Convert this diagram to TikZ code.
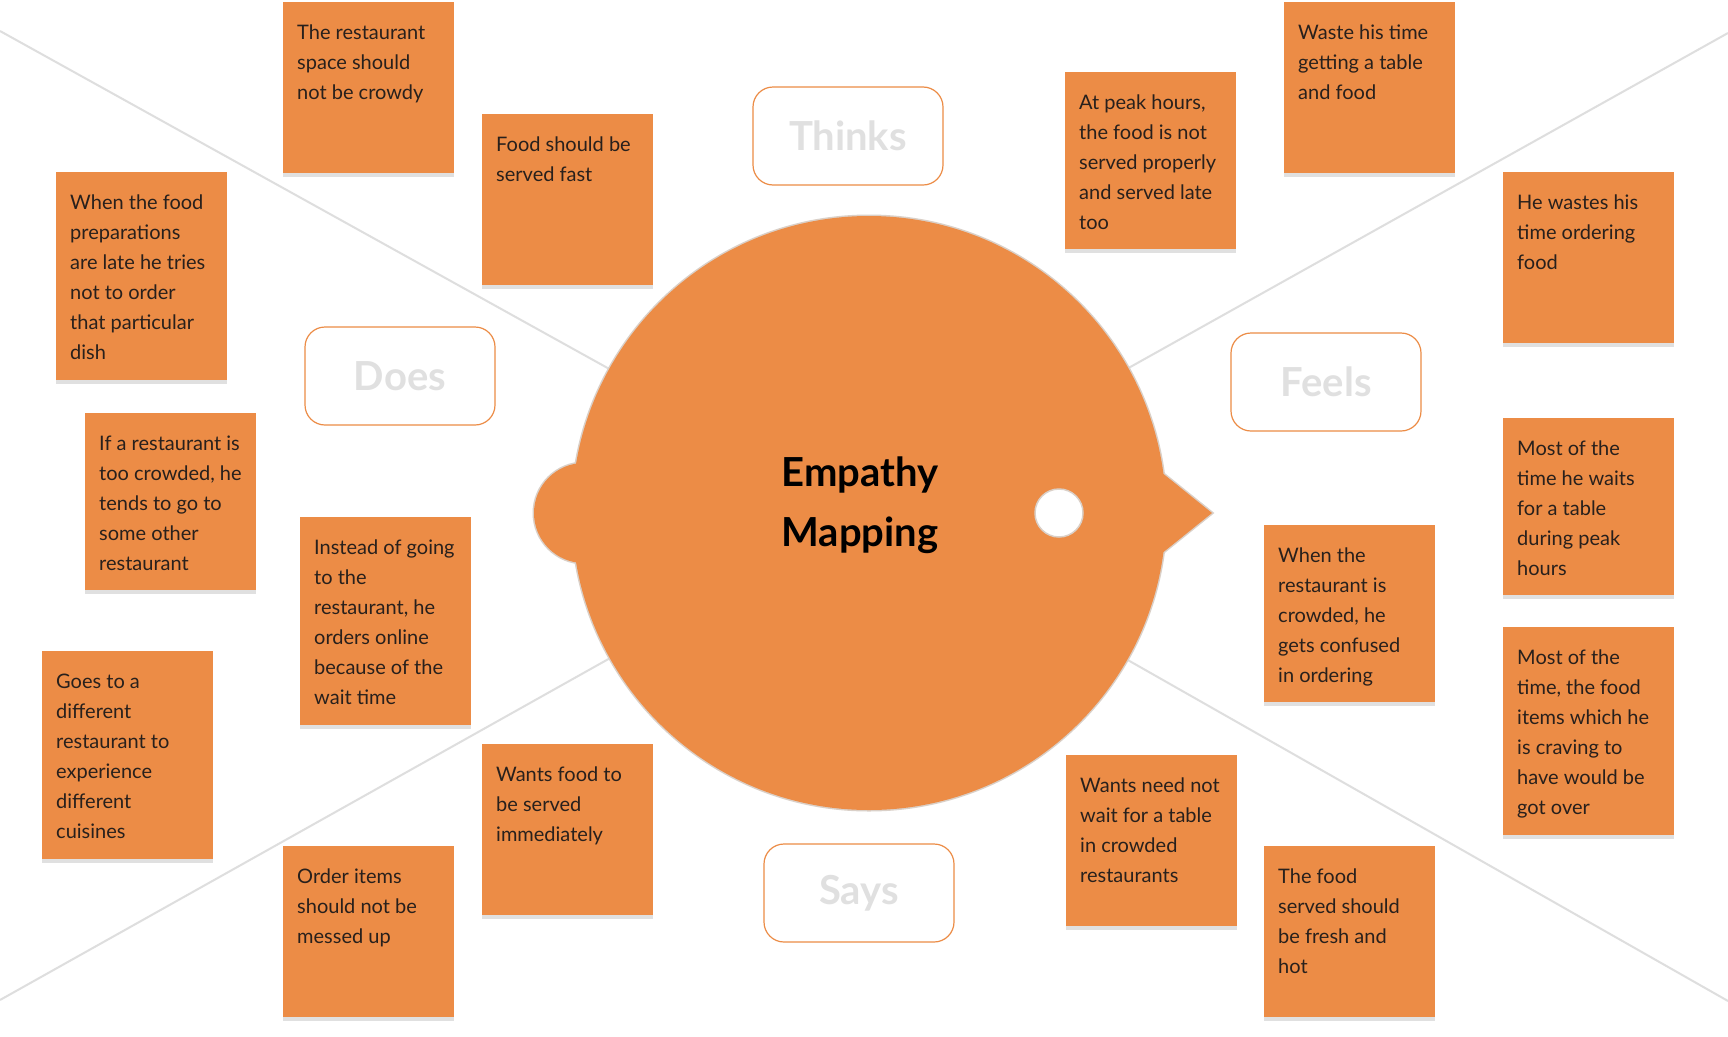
\documentclass[tikz,border=0pt]{standalone}
\usepackage{fontspec}
\setmainfont{Lato}
\usetikzlibrary{shadows}
\definecolor{notebg}{RGB}{236,140,70}
\definecolor{notetxt}{RGB}{40,32,28}
\definecolor{raygray}{RGB}{222,222,222}
\definecolor{rimgray}{RGB}{218,208,200}
\definecolor{tagtxt}{RGB}{224,224,224}
\begin{document}
\begin{tikzpicture}[x=1pt,y=-1pt,
  note/.style={fill=notebg,anchor=north west,minimum width=171pt,inner sep=0pt,
    drop shadow={shadow xshift=0pt,shadow yshift=-4pt,opacity=0.12,fill=black}},
  notetext/.style={anchor=north west,align=left,inner sep=0pt,xshift=14pt,yshift=-23pt,
    text=notetxt,font=\fontsize{20}{30}\selectfont},
  tag/.style={draw=notebg,fill=white,line width=1.2pt,rounded corners=20pt,
    minimum width=190pt,minimum height=98pt,text=tagtxt,font=\fontsize{40}{48}\selectfont\bfseries},
  ray/.style={draw=raygray,line width=2pt}]
\useasboundingbox[fill=white] (0,0) rectangle (1728,1036);
\coordinate (c) at (869,513);
\coordinate (tl) at (0,31);
\coordinate (tr) at (1728,33);
\coordinate (bl) at (0,1000);
\coordinate (br) at (1728,1001);
\draw[ray] (tl)--(c);
\draw[ray] (tr)--(c);
\draw[ray] (bl)--(c);
\draw[ray] (br)--(c);
\filldraw[fill=notebg,draw=rimgray,line width=3pt] (584,513) circle[radius=50];
\filldraw[fill=notebg,draw=rimgray,line width=3pt] (1120,439)--(1212,513)--(1120,587)--cycle;
\filldraw[fill=notebg,draw=rimgray,line width=3pt] (c) circle[radius=297];
\fill[notebg] (584,513) circle[radius=50];
\fill[notebg] (1120,439)--(1212,513)--(1120,587)--cycle;
\fill[notebg] (c) circle[radius=297];
\filldraw[fill=white,draw=rimgray,line width=1.5pt] (1059,513) circle[radius=24];
\node[align=left,font=\fontsize{40}{60}\selectfont\bfseries,text=black] (title) at (860,505) {Empathy\\Mapping};
\node[tag] (thinks) at (848,136) {Thinks};
\node[tag] (does) at (400,376) {Does};
\node[tag] (feels) at (1326,382) {Feels};
\node[tag] (says) at (859,893) {Says};
\node[note,minimum height=171pt,label={[notetext]north west:{The restaurant\\space should\\not be crowdy}}] (think1) at (283,2) {};
\node[note,minimum height=171pt,label={[notetext]north west:{Food should be\\served fast}}] (think2) at (482,114) {};
\node[note,minimum height=208pt,label={[notetext]north west:{When the food\\preparations\\are late he tries\\not to order\\that particular\\dish}}] (does1) at (56,172) {};
\node[note,minimum height=177pt,label={[notetext]north west:{If a restaurant is\\too crowded, he\\tends to go to\\some other\\restaurant}}] (does2) at (85,413) {};
\node[note,minimum height=208pt,label={[notetext]north west:{Instead of going\\to the\\restaurant, he\\orders online\\because of the\\wait time}}] (does3) at (300,517) {};
\node[note,minimum height=208pt,label={[notetext]north west:{Goes to a\\different\\restaurant to\\experience\\different\\cuisines}}] (does4) at (42,651) {};
\node[note,minimum height=171pt,label={[notetext]north west:{Wants food to\\be served\\immediately}}] (says1) at (482,744) {};
\node[note,minimum height=171pt,label={[notetext]north west:{Order items\\should not be\\messed up}}] (says2) at (283,846) {};
\node[note,minimum height=177pt,label={[notetext]north west:{At peak hours,\\the food is not\\served properly\\and served late\\too}}] (think3) at (1065,72) {};
\node[note,minimum height=171pt,label={[notetext]north west:{Waste his time\\getting a table\\and food}}] (feel1) at (1284,2) {};
\node[note,minimum height=171pt,label={[notetext]north west:{He wastes his\\time ordering\\food}}] (feel2) at (1503,172) {};
\node[note,minimum height=177pt,label={[notetext]north west:{Most of the\\time he waits\\for a table\\during peak\\hours}}] (feel3) at (1503,418) {};
\node[note,minimum height=177pt,label={[notetext]north west:{When the\\restaurant is\\crowded, he\\gets confused\\in ordering}}] (feel4) at (1264,525) {};
\node[note,minimum height=208pt,label={[notetext]north west:{Most of the\\time, the food\\items which he\\is craving to\\have would be\\got over}}] (feel5) at (1503,627) {};
\node[note,minimum height=171pt,label={[notetext]north west:{Wants need not\\wait for a table\\in crowded\\restaurants}}] (says3) at (1066,755) {};
\node[note,minimum height=171pt,label={[notetext]north west:{The food\\served should\\be fresh and\\hot}}] (says4) at (1264,846) {};
\end{tikzpicture}
\end{document}
